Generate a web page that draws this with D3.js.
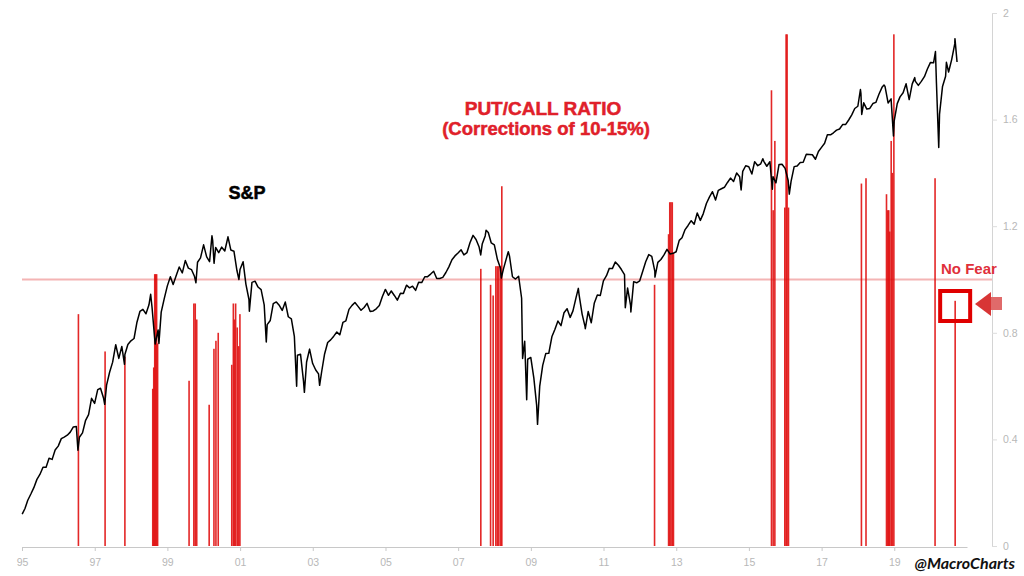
<!DOCTYPE html>
<html>
<head>
<meta charset="utf-8">
<script src="https://cdn.jsdelivr.net/npm/d3@7"></script>
<style>
  body { margin: 0; background: #fff; }
  svg { display: block; }
</style>
</head>
<body>
<div id="chart-area"></div>
<script>
// S&P 500 month-end closes, Jan 1995 .. Aug 2020
var spStart = '1995-01-31'
var spClose = [
  470.4, 487.4, 500.7, 514.7, 533.4, 544.8, 562.1, 561.9, 584.4, 581.5, 605.4, 615.9,
  636.0, 640.4, 645.5, 654.2, 669.1, 670.6, 639.9, 652.0, 687.3, 705.3, 757.0, 740.7,
  786.2, 790.8, 757.1, 801.3, 848.3, 885.1, 954.3, 899.5, 947.3, 914.6, 955.4, 970.4,
  980.3, 1049.3, 1101.8, 1111.8, 1090.8, 1133.8, 1120.7, 957.3, 1017.0, 1098.7, 1163.6, 1229.2,
  1279.6, 1238.3, 1286.4, 1335.2, 1301.8, 1372.7, 1328.7, 1320.4, 1282.7, 1362.9, 1388.9, 1469.3,
  1394.5, 1366.4, 1498.6, 1452.4, 1420.6, 1454.6, 1430.8, 1517.7, 1436.5, 1429.4, 1315.0, 1320.3,
  1366.0, 1239.9, 1160.3, 1249.5, 1255.8, 1224.4, 1211.2, 1133.6, 1040.9, 1059.8, 1139.5, 1148.1,
  1130.2, 1106.7, 1147.4, 1076.9, 1067.1, 989.8, 911.6, 916.1, 815.3, 885.8, 936.3, 879.8,
  855.7, 841.2, 848.2, 916.9, 963.6, 974.5, 990.3, 1008.0, 996.0, 1050.7, 1058.2, 1111.9,
  1131.1, 1144.9, 1126.2, 1107.3, 1120.7, 1140.8, 1101.7, 1104.2, 1114.6, 1130.2, 1173.8, 1211.9,
  1181.3, 1203.6, 1180.6, 1156.9, 1191.5, 1191.3, 1234.2, 1220.3, 1228.8, 1207.0, 1249.5, 1248.3,
  1280.1, 1280.7, 1294.9, 1310.6, 1270.1, 1270.2, 1276.7, 1303.8, 1335.9, 1377.9, 1400.6, 1418.3,
  1438.2, 1406.8, 1420.9, 1482.4, 1530.6, 1503.4, 1455.3, 1474.0, 1526.8, 1549.4, 1481.1, 1468.4,
  1378.6, 1330.6, 1322.7, 1385.6, 1400.4, 1280.0, 1267.4, 1282.8, 1166.4, 968.8, 896.2, 903.3,
  825.9, 735.1, 797.9, 872.8, 919.1, 919.3, 987.5, 1020.6, 1057.1, 1036.2, 1095.6, 1115.1,
  1073.9, 1104.5, 1169.4, 1186.7, 1089.4, 1030.7, 1101.6, 1049.3, 1141.2, 1183.3, 1180.6, 1257.6,
  1286.1, 1327.2, 1325.8, 1363.6, 1345.2, 1320.6, 1292.3, 1218.9, 1131.4, 1253.3, 1247.0, 1257.6,
  1312.4, 1365.7, 1408.5, 1397.9, 1310.3, 1362.2, 1379.3, 1406.6, 1440.7, 1412.2, 1416.2, 1426.2,
  1498.1, 1514.7, 1569.2, 1597.6, 1630.7, 1606.3, 1685.7, 1633.0, 1681.6, 1756.5, 1805.8, 1848.4,
  1782.6, 1859.5, 1872.3, 1883.9, 1923.6, 1960.2, 1931.0, 2003.4, 1972.3, 2018.1, 2067.6, 2058.9,
  1995.0, 2104.5, 2067.9, 2085.5, 2107.4, 2063.1, 2103.8, 1972.2, 1920.0, 2079.4, 2080.4, 2043.9,
  1940.2, 1932.2, 2059.7, 2065.3, 2097.0, 2098.9, 2173.6, 2171.0, 2168.3, 2126.2, 2198.8, 2238.8,
  2278.9, 2363.6, 2362.7, 2384.2, 2411.8, 2423.4, 2470.3, 2471.7, 2519.4, 2575.3, 2647.6, 2673.6,
  2823.8, 2713.8, 2640.9, 2648.1, 2705.3, 2718.4, 2816.3, 2901.5, 2914.0, 2711.7, 2760.2, 2506.9,
  2704.1, 2784.5, 2834.4, 2945.8, 2752.1, 2941.8, 2980.4, 2926.5, 2976.7, 3037.6, 3141.0, 3230.8,
  3225.5, 2954.2, 2584.6, 2912.4, 3044.3, 3100.3, 3271.1, 3500.3
]

// intra-month highs and lows
var spExtremes = [
  ['1995-01-03', 459.1], ['1996-07-16', 605.0], ['1997-04-11', 737.7], ['1997-10-27', 877.0],
  ['1998-07-17', 1186.8], ['1998-10-08', 959.4], ['1999-10-15', 1247.4], ['2000-03-24', 1527.5],
  ['2000-04-14', 1356.6], ['2000-09-01', 1520.8], ['2000-12-20', 1264.7], ['2001-04-04', 1103.3],
  ['2001-09-21', 965.8], ['2002-07-23', 797.7], ['2002-10-09', 776.8], ['2003-03-11', 800.7],
  ['2007-08-16', 1406.7], ['2007-10-09', 1565.2], ['2008-03-10', 1273.4], ['2008-05-19', 1426.6],
  ['2008-10-10', 899.2], ['2008-11-20', 752.4], ['2009-03-09', 676.5], ['2010-04-23', 1217.3],
  ['2010-07-02', 1022.6], ['2011-04-29', 1363.6], ['2011-08-08', 1119.5], ['2011-10-03', 1099.2],
  ['2012-06-01', 1278.0], ['2014-10-15', 1862.5], ['2015-05-21', 2131.0], ['2015-08-25', 1867.6],
  ['2016-02-11', 1829.1], ['2018-01-26', 2872.9], ['2018-02-08', 2581.0], ['2018-09-20', 2930.8],
  ['2018-12-24', 2351.1], ['2019-07-26', 3025.9], ['2020-02-19', 3386.2], ['2020-03-23', 2237.4],
  ['2020-06-08', 3232.4], ['2020-09-02', 3580.8], ['2020-09-23', 3236.9]
]

// put/call ratio spikes
var pcDates = [
  '1996-07-21', '1997-04-15', '1997-10-31',
  '1998-08-07', '1998-08-17', '1998-08-27', '1998-09-05', '1998-09-15', '1998-09-25',
  '1999-08-07', '1999-09-24', '1999-10-08', '1999-10-23',
  '2000-02-25', '2000-04-13', '2000-05-03', '2000-05-26',
  '2000-10-09', '2000-10-25', '2000-11-05', '2000-11-17', '2000-12-03', '2000-12-17', '2000-12-30',
  '2007-08-17', '2007-11-23', '2007-12-19', '2008-01-15', '2008-01-30', '2008-02-14', '2008-03-03', '2008-03-15',
  '2012-05-28', '2012-10-16', '2012-10-28', '2012-11-09', '2012-11-22', '2012-12-04',
  '2015-08-16', '2015-09-02', '2015-09-19',
  '2015-12-28', '2016-01-10', '2016-01-20', '2016-02-03',
  '2018-02-05', '2018-03-23',
  '2018-10-15', '2018-10-28', '2018-11-07', '2018-11-17', '2018-12-01', '2018-12-13', '2018-12-28',
  '2020-02-15', '2020-09-04'
]
var pcValues = [
  0.87, 0.73, 0.71,
  0.59, 0.67, 1.02, 1.02, 1.02, 0.76,
  0.62, 0.91, 0.91, 0.85,
  0.53, 0.74, 0.77, 0.80,
  0.68, 0.91, 0.85, 0.91, 0.82, 0.75, 0.87,
  1.04, 0.98, 0.94, 1.05, 1.05, 1.05, 1.05, 1.35,
  0.98, 1.17, 1.29, 1.29, 1.29, 1.10,
  1.71, 1.26, 1.52,
  1.27, 1.92, 1.92, 1.27,
  1.36, 1.38,
  1.32, 1.26, 1.26, 1.18, 1.52, 1.40, 1.92,
  1.38, 0.92
]

var pcThreshold = 1.0
var rightTicks = [0, 0.4, 0.8, 1.2, 1.6, 2]
var yearTicks = ['1995', '1997', '1999', '2001', '2003', '2005', '2007', '2009', '2011', '2013', '2015', '2017', '2019']

var width = 1024, height = 576
var plotLeft = 22, plotRight = 967, axisX = 992, plotTop = 13, plotBottom = 546

var parse = d3.timeParse('%Y-%m-%d')

var svg = d3.select('#chart-area')
  .append('svg')
    .attr('width', width)
    .attr('height', height)

var x = d3.scaleTime()
    .domain([parse('1995-01-01'), parse('2021-01-01')])
    .range([plotLeft, plotRight])

var ySp = d3.scaleLog()
    .domain([400, 4000])
    .range([plotBottom, plotTop])

var yPc = d3.scaleLinear()
    .domain([0, 2])
    .range([plotBottom, plotTop])

// build S&P series
var spData = []
var start = parse(spStart)
spClose.forEach((v, i) => {
  var d = d3.timeMonth.offset(d3.timeMonth.floor(start), i + 1)
  spData.push({ date: d3.timeDay.offset(d, -1), value: v })
})
spExtremes.forEach(e => spData.push({ date: parse(e[0]), value: e[1] }))
spData.sort((a, b) => a.date - b.date)

var pcData = pcDates.map((d, i) => ({ date: parse(d), value: pcValues[i] }))

// threshold line
svg.append('line')
  .attr('x1', plotLeft)
  .attr('x2', axisX)
  .attr('y1', yPc(pcThreshold))
  .attr('y2', yPc(pcThreshold))
  .attr('stroke', '#f4b4b4')
  .attr('stroke-width', 2)

// put/call bars
svg.selectAll('rect.pc')
  .data(pcData)
  .enter()
  .append('rect')
    .attr('class', 'pc')
    .attr('x', d => x(d.date) - 0.8)
    .attr('width', 1.6)
    .attr('y', d => yPc(d.value))
    .attr('height', d => yPc(0) - yPc(d.value))
    .attr('fill', '#e01010')
    .attr('fill-opacity', 0.9)

// S&P line
var line = d3.line()
    .x(d => x(d.date))
    .y(d => ySp(d.value))

svg.append('path')
  .datum(spData)
  .attr('d', line)
  .attr('fill', 'none')
  .attr('stroke', '#000')
  .attr('stroke-width', 1.5)
  .attr('stroke-linejoin', 'round')

// bottom axis
var xAxisCall = d3.axisBottom(x)
    .tickValues(yearTicks.map(y => parse(y + '-01-01')))
    .tickFormat(d3.timeFormat('%y'))
    .tickSize(4)
    .tickSizeOuter(0)
    .tickPadding(8)
var xAxis = svg.append('g')
  .attr('transform', 'translate(0,' + (plotBottom + 1) + ')')
  .call(xAxisCall)
xAxis.select('.domain').attr('stroke', '#c8c8c8')
xAxis.selectAll('.tick line').attr('stroke', '#c8c8c8')
xAxis.selectAll('text')
  .attr('fill', '#b8b8b8')
  .attr('font-family', 'Liberation Sans, Arial, sans-serif')
  .attr('font-size', '10.5px')

// right axis
var yAxisCall = d3.axisRight(yPc)
    .tickValues(rightTicks)
    .tickFormat(d => d)
    .tickSize(5)
    .tickSizeOuter(0)
    .tickPadding(6)
var yAxis = svg.append('g')
  .attr('transform', 'translate(' + axisX + ',0)')
  .call(yAxisCall)
yAxis.select('.domain').attr('stroke', '#d4d4d4')
yAxis.selectAll('.tick line').attr('stroke', '#dcdcdc')
yAxis.selectAll('text')
  .attr('fill', '#b8b8b8')
  .attr('font-family', 'Liberation Sans, Arial, sans-serif')
  .attr('font-size', '10.5px')

// titles
function boldLabel(tx, ty, size, color, str) {
  svg.append('text')
    .attr('x', tx)
    .attr('y', ty)
    .attr('text-anchor', 'middle')
    .attr('font-family', 'Liberation Sans, Arial, sans-serif')
    .attr('font-weight', 'bold')
    .attr('font-size', size + 'px')
    .attr('fill', color)
    .attr('stroke', color)
    .attr('stroke-width', 0.5)
    .text(str)
}

boldLabel(543, 115, 19, '#e0202a', 'PUT/CALL RATIO')
boldLabel(546, 135, 18.5, '#e0202a', '(Corrections of 10-15%)')
boldLabel(247, 199, 18, '#000', 'S&P')

// No Fear callout
var lastPc = pcData[pcData.length - 1]
var cx = x(lastPc.date)

svg.append('text')
  .attr('x', 941)
  .attr('y', 274)
  .attr('font-family', 'Liberation Sans, Arial, sans-serif')
  .attr('font-weight', 'bold')
  .attr('font-size', '15px')
  .attr('fill', '#e0303a')
  .text('No Fear')

svg.append('rect')
  .attr('x', cx - 15)
  .attr('y', 291)
  .attr('width', 30)
  .attr('height', 30)
  .attr('fill', 'none')
  .attr('stroke', '#e00000')
  .attr('stroke-width', 4)

svg.append('rect')
  .attr('x', 990)
  .attr('y', 297)
  .attr('width', 12)
  .attr('height', 13)
  .attr('fill', '#e06a6a')

svg.append('path')
  .attr('d', 'M975,304 L991,292 L991,316 Z')
  .attr('fill', '#d83535')

// watermark
svg.append('text')
  .attr('x', 1015)
  .attr('y', 569)
  .attr('text-anchor', 'end')
  .attr('font-family', 'Lato, sans-serif')
  .attr('font-style', 'italic')
  .attr('font-weight', 'bold')
  .attr('font-size', '16px')
  .attr('fill', '#111')
  .text('@MacroCharts')
</script>
</body>
</html>
